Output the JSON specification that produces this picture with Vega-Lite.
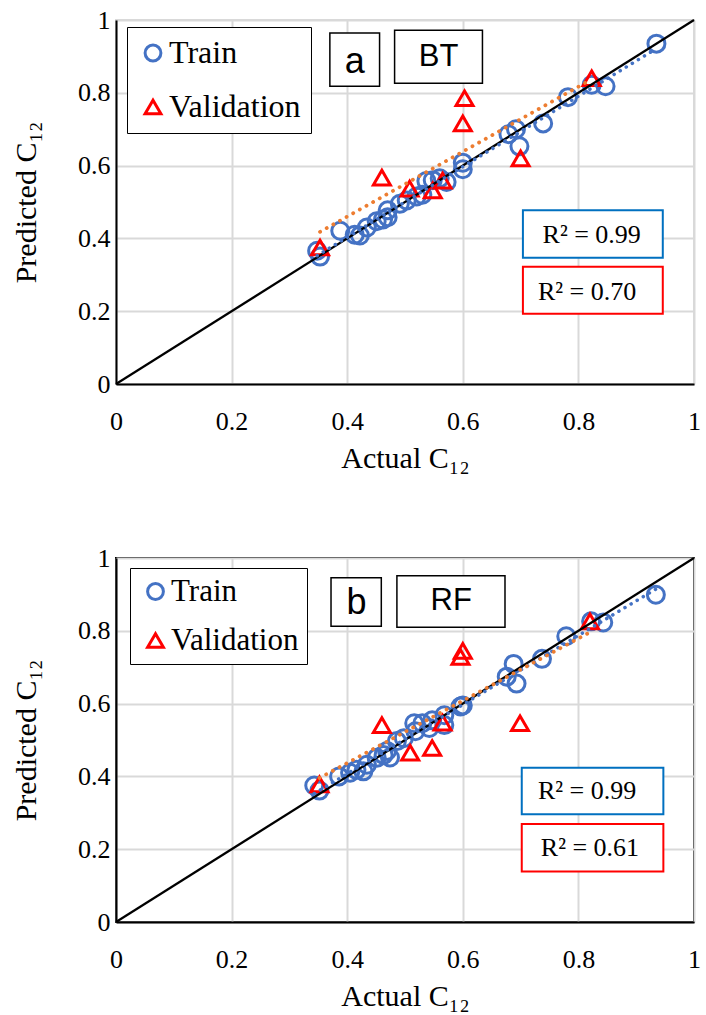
{
  "$schema": "https://vega.github.io/schema/vega-lite/v6.json",
  "background": "white",
  "padding": {"left": 10, "top": 6, "right": 5, "bottom": 5},
  "datasets": {
    "bt": [
      {"set": "Train", "actual": 0.348, "predicted": 0.366},
      {"set": "Train", "actual": 0.353, "predicted": 0.350},
      {"set": "Train", "actual": 0.388, "predicted": 0.421},
      {"set": "Train", "actual": 0.413, "predicted": 0.410},
      {"set": "Train", "actual": 0.422, "predicted": 0.408},
      {"set": "Train", "actual": 0.434, "predicted": 0.430},
      {"set": "Train", "actual": 0.451, "predicted": 0.447},
      {"set": "Train", "actual": 0.462, "predicted": 0.452},
      {"set": "Train", "actual": 0.470, "predicted": 0.477},
      {"set": "Train", "actual": 0.470, "predicted": 0.458},
      {"set": "Train", "actual": 0.491, "predicted": 0.495},
      {"set": "Train", "actual": 0.503, "predicted": 0.504},
      {"set": "Train", "actual": 0.520, "predicted": 0.515},
      {"set": "Train", "actual": 0.530, "predicted": 0.520},
      {"set": "Train", "actual": 0.537, "predicted": 0.558},
      {"set": "Train", "actual": 0.548, "predicted": 0.560},
      {"set": "Train", "actual": 0.560, "predicted": 0.565},
      {"set": "Train", "actual": 0.572, "predicted": 0.555},
      {"set": "Train", "actual": 0.600, "predicted": 0.590},
      {"set": "Train", "actual": 0.600, "predicted": 0.608},
      {"set": "Train", "actual": 0.679, "predicted": 0.686},
      {"set": "Train", "actual": 0.692, "predicted": 0.700},
      {"set": "Train", "actual": 0.698, "predicted": 0.653},
      {"set": "Train", "actual": 0.739, "predicted": 0.716},
      {"set": "Train", "actual": 0.782, "predicted": 0.788},
      {"set": "Train", "actual": 0.823, "predicted": 0.822},
      {"set": "Train", "actual": 0.847, "predicted": 0.818},
      {"set": "Train", "actual": 0.935, "predicted": 0.935},
      {"set": "Validation", "actual": 0.353, "predicted": 0.375},
      {"set": "Validation", "actual": 0.460, "predicted": 0.567},
      {"set": "Validation", "actual": 0.508, "predicted": 0.537},
      {"set": "Validation", "actual": 0.548, "predicted": 0.532},
      {"set": "Validation", "actual": 0.565, "predicted": 0.559},
      {"set": "Validation", "actual": 0.603, "predicted": 0.785},
      {"set": "Validation", "actual": 0.600, "predicted": 0.716},
      {"set": "Validation", "actual": 0.700, "predicted": 0.620},
      {"set": "Validation", "actual": 0.823, "predicted": 0.840}
    ],
    "rf": [
      {"set": "Train", "actual": 0.343, "predicted": 0.375},
      {"set": "Train", "actual": 0.352, "predicted": 0.361},
      {"set": "Train", "actual": 0.386, "predicted": 0.400},
      {"set": "Train", "actual": 0.405, "predicted": 0.410},
      {"set": "Train", "actual": 0.416, "predicted": 0.418},
      {"set": "Train", "actual": 0.428, "predicted": 0.414},
      {"set": "Train", "actual": 0.434, "predicted": 0.432},
      {"set": "Train", "actual": 0.451, "predicted": 0.451},
      {"set": "Train", "actual": 0.463, "predicted": 0.459},
      {"set": "Train", "actual": 0.474, "predicted": 0.452},
      {"set": "Train", "actual": 0.469, "predicted": 0.470},
      {"set": "Train", "actual": 0.486, "predicted": 0.497},
      {"set": "Train", "actual": 0.498, "predicted": 0.505},
      {"set": "Train", "actual": 0.518, "predicted": 0.524},
      {"set": "Train", "actual": 0.516, "predicted": 0.546},
      {"set": "Train", "actual": 0.530, "predicted": 0.546},
      {"set": "Train", "actual": 0.542, "predicted": 0.533},
      {"set": "Train", "actual": 0.547, "predicted": 0.554},
      {"set": "Train", "actual": 0.568, "predicted": 0.541},
      {"set": "Train", "actual": 0.568, "predicted": 0.568},
      {"set": "Train", "actual": 0.596, "predicted": 0.592},
      {"set": "Train", "actual": 0.600, "predicted": 0.595},
      {"set": "Train", "actual": 0.676, "predicted": 0.674},
      {"set": "Train", "actual": 0.688, "predicted": 0.709},
      {"set": "Train", "actual": 0.693, "predicted": 0.655},
      {"set": "Train", "actual": 0.737, "predicted": 0.723},
      {"set": "Train", "actual": 0.779, "predicted": 0.785},
      {"set": "Train", "actual": 0.822, "predicted": 0.826},
      {"set": "Train", "actual": 0.843, "predicted": 0.823},
      {"set": "Train", "actual": 0.934, "predicted": 0.899},
      {"set": "Validation", "actual": 0.352, "predicted": 0.378},
      {"set": "Validation", "actual": 0.460, "predicted": 0.541},
      {"set": "Validation", "actual": 0.509, "predicted": 0.465},
      {"set": "Validation", "actual": 0.547, "predicted": 0.478},
      {"set": "Validation", "actual": 0.565, "predicted": 0.548},
      {"set": "Validation", "actual": 0.596, "predicted": 0.728},
      {"set": "Validation", "actual": 0.600, "predicted": 0.745},
      {"set": "Validation", "actual": 0.699, "predicted": 0.546},
      {"set": "Validation", "actual": 0.820, "predicted": 0.826}
    ],
    "diag": [
      {"actual": 0, "predicted": 0},
      {"actual": 1, "predicted": 1}
    ],
    "one": [{}]
  },
  "vconcat": [
    {
      "width": 578,
      "height": 364,
      "view": {"stroke": "#D9D9D9", "strokeWidth": 2},
      "layer": [
        {
          "data": {"name": "bt"},
          "mark": {"type": "point", "filled": false, "size": 289, "strokeWidth": 3, "opacity": 1},
          "encoding": {
            "x": {"field": "actual", "type": "quantitative", "scale": {"domain": [0, 1], "nice": false, "zero": false}, "axis": {"title": "Actual C₁₂", "values": [0, 0.2, 0.4, 0.6, 0.8, 1]}},
            "y": {"field": "predicted", "type": "quantitative", "scale": {"domain": [0, 1], "nice": false, "zero": false}, "axis": {"title": "Predicted C₁₂", "values": [0, 0.2, 0.4, 0.6, 0.8, 1]}},
            "color": {"field": "set", "type": "nominal", "scale": {"domain": ["Train", "Validation"], "range": ["#4472C4", "#FF0000"]},
              "legend": {"title": null, "orient": "none", "legendX": 11, "legendY": 7, "direction": "vertical", "strokeColor": "black", "fillColor": "white", "padding": 10, "labelFont": "Liberation Serif", "labelFontSize": 32, "labelColor": "black", "symbolSize": 250, "symbolStrokeWidth": 3, "rowPadding": 22, "labelOffset": 0, "symbolOffset": 0}},
            "shape": {"field": "set", "type": "nominal", "scale": {"domain": ["Train", "Validation"], "range": ["circle", "triangle-up"]}}
          }
        },
        {
          "data": {"name": "diag"},
          "mark": {"type": "line", "color": "black", "strokeWidth": 2.2},
          "encoding": {"x": {"field": "actual", "type": "quantitative"}, "y": {"field": "predicted", "type": "quantitative"}}
        },
        {
          "data": {"name": "bt"},
          "transform": [{"filter": "datum.set === 'Train'"}, {"regression": "predicted", "on": "actual"}],
          "mark": {"type": "line", "color": "#4472C4", "strokeWidth": 3.5, "strokeDash": [0.1, 7], "strokeCap": "round"},
          "encoding": {"x": {"field": "actual", "type": "quantitative"}, "y": {"field": "predicted", "type": "quantitative"}}
        },
        {
          "data": {"name": "bt"},
          "transform": [{"filter": "datum.set === 'Validation'"}, {"regression": "predicted", "on": "actual"}],
          "mark": {"type": "line", "color": "#ED7D31", "strokeWidth": 3.8, "strokeDash": [0.1, 7.5], "strokeCap": "round"},
          "encoding": {"x": {"field": "actual", "type": "quantitative"}, "y": {"field": "predicted", "type": "quantitative"}}
        },
        {
          "data": {"name": "one"},
          "mark": {"type": "rect", "fill": "white", "stroke": "black", "strokeWidth": 1.5},
          "encoding": {"x": {"datum": 0.370}, "x2": {"datum": 0.456}, "y": {"datum": 0.964}, "y2": {"datum": 0.818}}
        },
        {
          "data": {"name": "one"},
          "mark": {"type": "text", "text": "a", "font": "Liberation Sans", "fontSize": 36, "color": "black", "baseline": "middle", "align": "center"},
          "encoding": {"x": {"datum": 0.413}, "y": {"datum": 0.885}}
        },
        {
          "data": {"name": "one"},
          "mark": {"type": "rect", "fill": "white", "stroke": "black", "strokeWidth": 1.5},
          "encoding": {"x": {"datum": 0.482}, "x2": {"datum": 0.634}, "y": {"datum": 0.972}, "y2": {"datum": 0.826}}
        },
        {
          "data": {"name": "one"},
          "mark": {"type": "text", "text": "BT", "font": "Liberation Sans", "fontSize": 31, "color": "black", "baseline": "middle", "align": "center"},
          "encoding": {"x": {"datum": 0.558}, "y": {"datum": 0.898}}
        },
        {
          "data": {"name": "one"},
          "mark": {"type": "rect", "fill": "white", "stroke": "#0070C0", "strokeWidth": 2},
          "encoding": {"x": {"datum": 0.704}, "x2": {"datum": 0.946}, "y": {"datum": 0.477}, "y2": {"datum": 0.347}}
        },
        {
          "data": {"name": "one"},
          "mark": {"type": "text", "text": "R² = 0.99", "font": "Liberation Serif", "fontSize": 26, "color": "black", "baseline": "middle", "align": "center"},
          "encoding": {"x": {"datum": 0.823}, "y": {"datum": 0.410}}
        },
        {
          "data": {"name": "one"},
          "mark": {"type": "rect", "fill": "white", "stroke": "#FF0000", "strokeWidth": 2},
          "encoding": {"x": {"datum": 0.704}, "x2": {"datum": 0.946}, "y": {"datum": 0.322}, "y2": {"datum": 0.193}}
        },
        {
          "data": {"name": "one"},
          "mark": {"type": "text", "text": "R² = 0.70", "font": "Liberation Serif", "fontSize": 26, "color": "black", "baseline": "middle", "align": "center"},
          "encoding": {"x": {"datum": 0.815}, "y": {"datum": 0.253}}
        }
      ]
    },
    {
      "width": 578,
      "height": 364,
      "view": {"stroke": "black", "strokeWidth": 2},
      "layer": [
        {
          "data": {"name": "rf"},
          "mark": {"type": "point", "filled": false, "size": 289, "strokeWidth": 3, "opacity": 1},
          "encoding": {
            "x": {"field": "actual", "type": "quantitative", "scale": {"domain": [0, 1], "nice": false, "zero": false}, "axis": {"title": "Actual C₁₂", "values": [0, 0.2, 0.4, 0.6, 0.8, 1]}},
            "y": {"field": "predicted", "type": "quantitative", "scale": {"domain": [0, 1], "nice": false, "zero": false}, "axis": {"title": "Predicted C₁₂", "values": [0, 0.2, 0.4, 0.6, 0.8, 1]}},
            "color": {"field": "set", "type": "nominal", "scale": {"domain": ["Train", "Validation"], "range": ["#4472C4", "#FF0000"]},
              "legend": {"title": null, "orient": "none", "legendX": 14, "legendY": 10, "direction": "vertical", "strokeColor": "black", "fillColor": "white", "padding": 8, "labelFont": "Liberation Serif", "labelFontSize": 31, "labelColor": "black", "symbolSize": 250, "symbolStrokeWidth": 3, "rowPadding": 17, "labelOffset": 0, "symbolOffset": 2}},
            "shape": {"field": "set", "type": "nominal", "scale": {"domain": ["Train", "Validation"], "range": ["circle", "triangle-up"]}}
          }
        },
        {
          "data": {"name": "diag"},
          "mark": {"type": "line", "color": "black", "strokeWidth": 2.2},
          "encoding": {"x": {"field": "actual", "type": "quantitative"}, "y": {"field": "predicted", "type": "quantitative"}}
        },
        {
          "data": {"name": "rf"},
          "transform": [{"filter": "datum.set === 'Train'"}, {"regression": "predicted", "on": "actual"}],
          "mark": {"type": "line", "color": "#4472C4", "strokeWidth": 3.5, "strokeDash": [0.1, 7], "strokeCap": "round"},
          "encoding": {"x": {"field": "actual", "type": "quantitative"}, "y": {"field": "predicted", "type": "quantitative"}}
        },
        {
          "data": {"name": "rf"},
          "transform": [{"filter": "datum.set === 'Validation'"}, {"regression": "predicted", "on": "actual"}],
          "mark": {"type": "line", "color": "#ED7D31", "strokeWidth": 3.8, "strokeDash": [0.1, 7.5], "strokeCap": "round"},
          "encoding": {"x": {"field": "actual", "type": "quantitative"}, "y": {"field": "predicted", "type": "quantitative"}}
        },
        {
          "data": {"name": "one"},
          "mark": {"type": "rect", "fill": "white", "stroke": "black", "strokeWidth": 1.5},
          "encoding": {"x": {"datum": 0.372}, "x2": {"datum": 0.459}, "y": {"datum": 0.946}, "y2": {"datum": 0.8125}}
        },
        {
          "data": {"name": "one"},
          "mark": {"type": "text", "text": "b", "font": "Liberation Sans", "fontSize": 36, "color": "black", "baseline": "middle", "align": "center"},
          "encoding": {"x": {"datum": 0.416}, "y": {"datum": 0.877}}
        },
        {
          "data": {"name": "one"},
          "mark": {"type": "rect", "fill": "white", "stroke": "black", "strokeWidth": 1.5},
          "encoding": {"x": {"datum": 0.486}, "x2": {"datum": 0.673}, "y": {"datum": 0.951}, "y2": {"datum": 0.810}}
        },
        {
          "data": {"name": "one"},
          "mark": {"type": "text", "text": "RF", "font": "Liberation Sans", "fontSize": 31, "color": "black", "baseline": "middle", "align": "center"},
          "encoding": {"x": {"datum": 0.580}, "y": {"datum": 0.883}}
        },
        {
          "data": {"name": "one"},
          "mark": {"type": "rect", "fill": "white", "stroke": "#0070C0", "strokeWidth": 2},
          "encoding": {"x": {"datum": 0.702}, "x2": {"datum": 0.947}, "y": {"datum": 0.424}, "y2": {"datum": 0.296}}
        },
        {
          "data": {"name": "one"},
          "mark": {"type": "text", "text": "R² = 0.99", "font": "Liberation Serif", "fontSize": 26, "color": "black", "baseline": "middle", "align": "center"},
          "encoding": {"x": {"datum": 0.815}, "y": {"datum": 0.360}}
        },
        {
          "data": {"name": "one"},
          "mark": {"type": "rect", "fill": "white", "stroke": "#FF0000", "strokeWidth": 2},
          "encoding": {"x": {"datum": 0.702}, "x2": {"datum": 0.947}, "y": {"datum": 0.269}, "y2": {"datum": 0.139}}
        },
        {
          "data": {"name": "one"},
          "mark": {"type": "text", "text": "R² = 0.61", "font": "Liberation Serif", "fontSize": 26, "color": "black", "baseline": "middle", "align": "center"},
          "encoding": {"x": {"datum": 0.820}, "y": {"datum": 0.204}}
        }
      ]
    }
  ],
  "spacing": 174,
  "bounds": "flush",
  "resolve": {
    "scale": {"color": "independent", "shape": "independent"},
    "legend": {"color": "independent", "shape": "independent"}
  },
  "config": {
    "font": "Liberation Serif",
    "legend": {"labelFont": "Liberation Serif"},
    "axis": {
      "format": "~g",
      "labelFont": "Liberation Serif",
      "labelFontSize": 26,
      "labelColor": "black",
      "titleFont": "Liberation Serif",
      "titleFontSize": 30,
      "titleFontWeight": "normal",
      "titleColor": "black",
      "ticks": false,
      "tickSize": 0,
      "grid": true,
      "gridColor": "#D9D9D9",
      "gridWidth": 2,
      "domain": true,
      "domainColor": "black",
      "domainWidth": 2
    },
    "axisX": {"labelFlush": false, "labelPadding": 24, "titlePadding": 9},
    "axisY": {"labelFlush": false, "labelPadding": 6, "titlePadding": 36}
  }
}
